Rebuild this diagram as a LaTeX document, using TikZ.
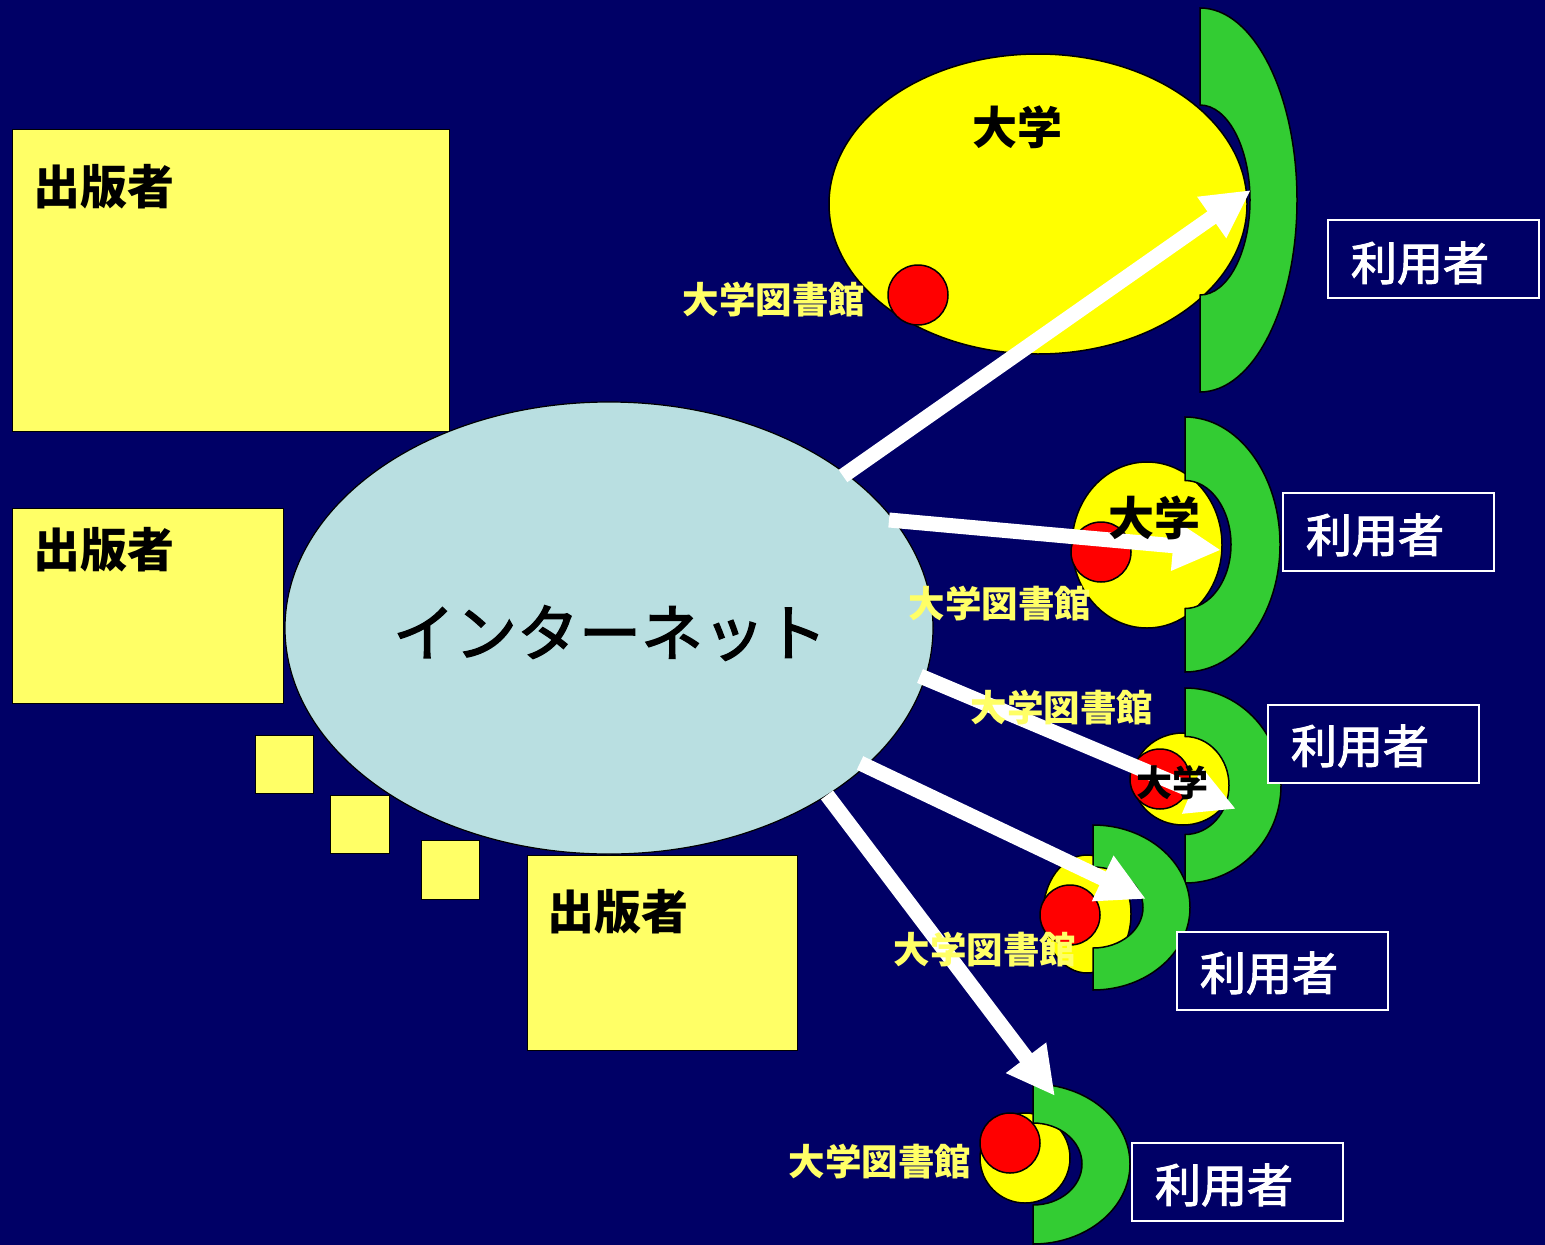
\documentclass[tikz,border=0pt]{standalone}
\usepackage{fontspec}
\usetikzlibrary{shapes.geometric,arrows.meta}
\newfontfamily\jp{Noto Sans CJK JP}
\newfontfamily\jpm{Noto Sans CJK JP}[FakeBold=2.2]
\definecolor{navy}{RGB}{0,0,102}
\definecolor{pubyellow}{RGB}{255,255,102}
\definecolor{inetblue}{RGB}{185,223,225}
\definecolor{usergreen}{RGB}{51,204,51}
\definecolor{unired}{RGB}{255,0,0}
\definecolor{uniyellow}{RGB}{255,255,0}
% green "D" shaped user shell: x, cy, outer rx, outer ry, inner rx, inner ry
\newcommand{\userD}[6]{%
  \draw[greenD] (#1,{#2-#4}) -- (#1,{#2-#6})
    arc[start angle=90,end angle=-90,x radius=#5pt,y radius=#6pt]
    -- (#1,{#2+#4})
    arc[start angle=-90,end angle=90,x radius=#3pt,y radius=#4pt] -- cycle;}
\begin{document}
\begin{tikzpicture}[x=1pt,y=-1pt,
  pubbox/.style={draw=black,line width=1.2pt,fill=pubyellow,anchor=north west,inner sep=0},
  userbox/.style={draw=white,line width=2pt,fill=navy,anchor=north west,inner sep=0,minimum width=211pt,minimum height=78pt},
  uni/.style={ellipse,draw=black,line width=1.5pt,fill=uniyellow,inner sep=0},
  lib/.style={circle,draw=black,line width=1.5pt,fill=unired,inner sep=0,minimum size=60pt},
  greenD/.style={draw=black,line width=1.5pt,fill=usergreen},
  bigarrow/.style={draw=white,line width=15pt,-{Triangle[length=48pt,width=47pt]}},
  jtext/.style={inner sep=0,font=\jp\bfseries\fontsize{#1}{#1}\selectfont},
  mtext/.style={inner sep=0,font=\jpm\fontsize{#1}{#1}\selectfont},
  pubtxt/.style={jtext=47,text=black,anchor=west},
  usertxt/.style={mtext=46,text=white},
  libtxt/.style={jtext=36.5,text=pubyellow},
  unitxt/.style={jtext=#1,text=black},
]
\useasboundingbox (0,0) rectangle (1545,1245);
\fill[navy] (0,0) rectangle (1545,1245);

% publishers
\node[pubbox,minimum width=437pt,minimum height=302pt] (p1) at (12,129) {};
\node[pubbox,minimum width=271pt,minimum height=195pt] (p2) at (12,508) {};
\node[pubbox,minimum width=270pt,minimum height=195pt] (p3) at (527,855) {};
\node[pubbox,minimum width=58pt,minimum height=58pt] (sq1) at (255,735) {};
\node[pubbox,minimum width=59pt,minimum height=58pt] (sq2) at (330,795) {};
\node[pubbox,minimum width=58pt,minimum height=59pt] (sq3) at (421,840) {};
\node[pubtxt] (p1t) at (33,187) {出版者};
\node[pubtxt] (p2t) at (33,550) {出版者};
\node[pubtxt] (p3t) at (547,912) {出版者};

% internet
\node[ellipse,draw=black,line width=1.2pt,fill=inetblue,inner sep=0,
      minimum width=648pt,minimum height=452pt] (inet) at (609,628) {};
\node[mtext=62,text=black] (inett) at (610,633) {インターネット};

% universities (yellow), libraries (red)
\node[uni,minimum width=418pt,minimum height=300pt] (u1) at (1038,204) {};
\node[uni,minimum width=150pt,minimum height=166pt] (u2) at (1147,545) {};
\node[uni,minimum width=100pt,minimum height=92pt] (u3) at (1183,779) {};
\node[uni,minimum width=88pt,minimum height=118pt] (u4) at (1087,914) {};
\node[uni,minimum width=90pt,minimum height=90pt] (u5) at (1025,1158) {};
\node[lib] (l1) at (918,295) {};
\node[lib] (l2) at (1101,552) {};
\node[lib] (l3) at (1160,779) {};
\node[lib] (l4) at (1070,915) {};
\node[lib] (l5) at (1010,1143) {};

% users (green shells)
\userD{1200}{200}{97}{192}{50}{95}
\userD{1185}{544.5}{95}{127.5}{46}{64}
\userD{1185}{785.5}{96}{97.5}{44}{49}
\userD{1093}{907.5}{97}{82.5}{50}{40.5}
\userD{1033}{1164}{97}{80}{49}{41}

% arrows
\coordinate (s1) at (843,476); \coordinate (t1) at (1251,190);
\coordinate (s2) at (889,520); \coordinate (t2) at (1221,550);
\coordinate (s3) at (920,676); \coordinate (t3) at (1236,809);
\coordinate (s4) at (860,763); \coordinate (t4) at (1146,899);
\coordinate (s5) at (827,795); \coordinate (t5) at (1055,1096);
\draw[bigarrow] (s1) -- (t1);
\draw[bigarrow] (s2) -- (t2);
\draw[bigarrow] (s3) -- (t3);
\draw[bigarrow] (s4) -- (t4);
\draw[bigarrow] (s5) -- (t5);

% university labels
\node[unitxt=45] (u1t) at (1017,127) {大学};
\node[unitxt=46] (u2t) at (1154,518) {大学};
\node[unitxt=36] (u3t) at (1172,783) {大学};

% library labels
\node[libtxt] (l1t) at (774,300) {大学図書館};
\node[libtxt] (l2t) at (1000,604) {大学図書館};
\node[libtxt] (l3t) at (1062,708) {大学図書館};
\node[libtxt] (l4t) at (985,950) {大学図書館};
\node[libtxt] (l5t) at (880,1162) {大学図書館};

% user boxes
\node[userbox] (b1) at (1327,219) {};
\node[userbox] (b2) at (1282,492) {};
\node[userbox] (b3) at (1267,704) {};
\node[userbox] (b4) at (1176,931) {};
\node[userbox] (b5) at (1131,1142) {};
\node[usertxt] (b1t) at (1420,263) {利用者};
\node[usertxt] (b2t) at (1375,535) {利用者};
\node[usertxt] (b3t) at (1360,746) {利用者};
\node[usertxt] (b4t) at (1269,973) {利用者};
\node[usertxt] (b5t) at (1224,1185) {利用者};
\end{tikzpicture}
\end{document}
